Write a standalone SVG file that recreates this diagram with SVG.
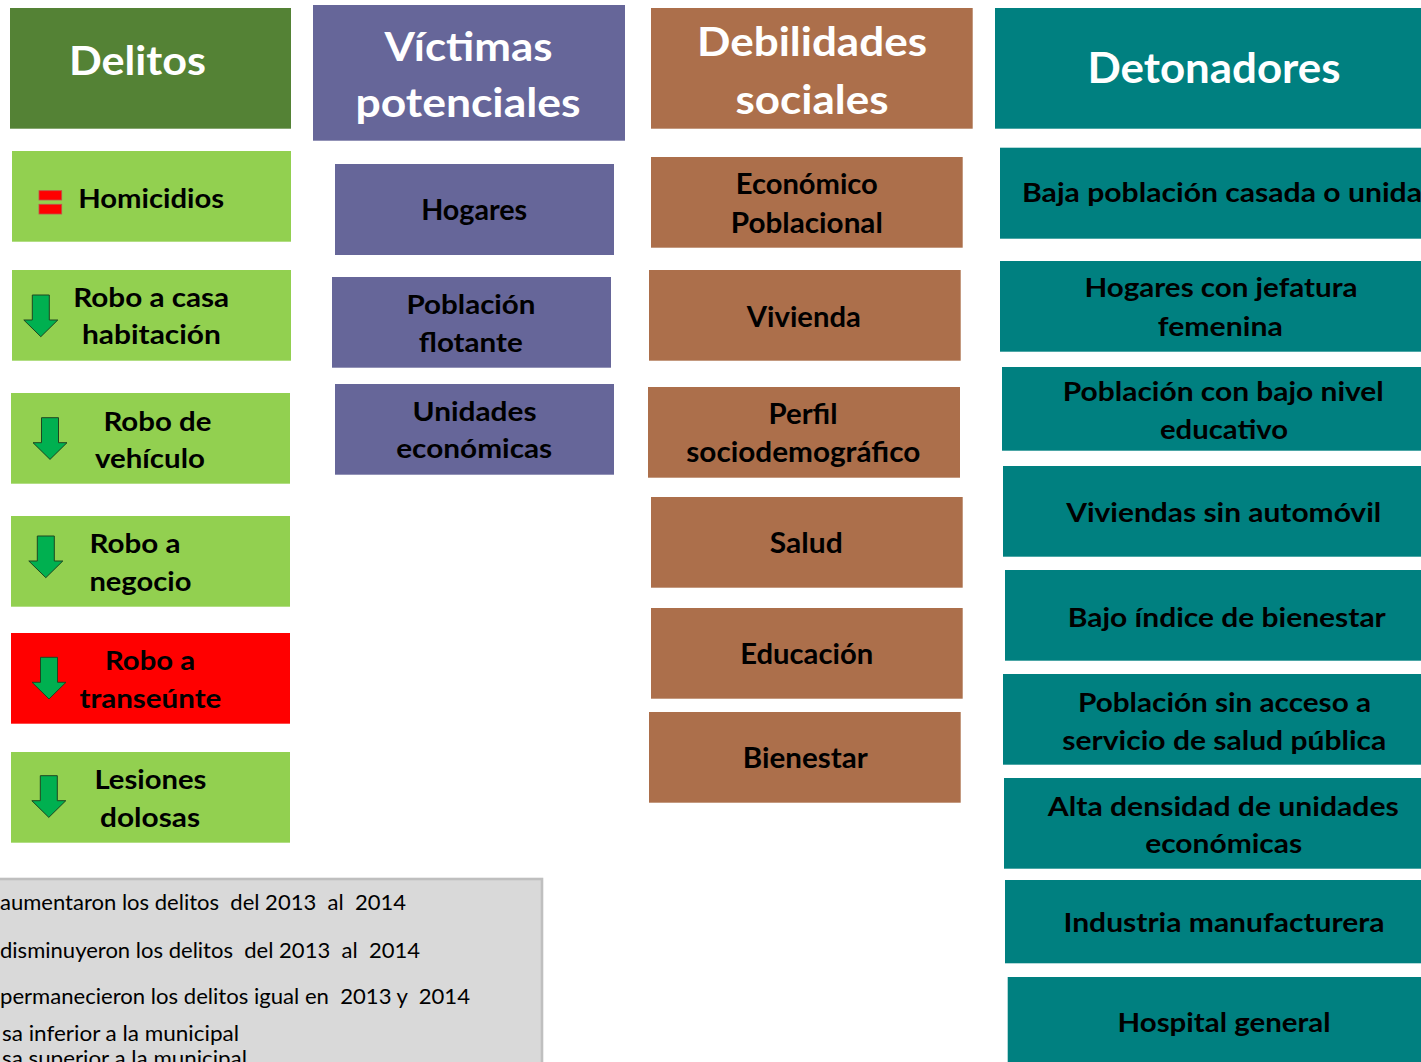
<svg xmlns="http://www.w3.org/2000/svg" width="1421" height="1062" viewBox="0 0 1421 1062">
<style>
text{font-family:Lato,"Open Sans","Liberation Sans",sans-serif;font-weight:700;fill:#000;}
.hd{fill:#fff;font-size:41px;text-anchor:middle;}
.c1{font-size:26px;text-anchor:middle;}
.c2{font-size:27.5px;text-anchor:middle;}
.c3{font-size:28.5px;text-anchor:middle;}
.c4{font-size:26.5px;text-anchor:middle;}
.lg{font-weight:400;font-size:21px;white-space:pre;}
.g1{fill:#548235;}.g2{fill:#92D050;}.red{fill:#FF0000;}
.pu{fill:#666699;}.br{fill:#AC6F4B;}.tl{fill:#008080;}
.arr{fill:#00B050;stroke:#1E4620;stroke-width:1;}
.eq{fill:#FF0000;stroke:#C0504D;stroke-width:0.8;}
</style>
<defs>
<path id="down" d="M -8.5 0 H 8.5 V 25 H 17 L 0 41.7 L -17 25 H -8.5 Z"/>
</defs>
<rect width="1421" height="1062" fill="#fff"/>

<!-- Column 1: Delitos -->
<g id="hdr-delitos"><rect class="g1" x="10" y="8" width="281" height="120.7"/>
<text class="hd" x="137.5" y="75" textLength="137" lengthAdjust="spacingAndGlyphs">Delitos</text></g>
<g id="homicidios"><rect class="g2" x="12" y="151" width="279" height="90.7"/>
<rect class="eq" x="39" y="190.7" width="22.7" height="9.3"/><rect class="eq" x="39" y="204.3" width="22.7" height="9.7"/>
<text class="c1" x="151.2" y="208.3" textLength="146" lengthAdjust="spacingAndGlyphs">Homicidios</text></g>
<g id="robo-casa"><rect class="g2" x="12" y="270" width="279" height="90.7"/>
<use href="#down" class="arr" x="40.8" y="295"/>
<text class="c1" x="151.2" y="306.7" textLength="156" lengthAdjust="spacingAndGlyphs">Robo a casa</text>
<text class="c1" x="151.4" y="344" textLength="139" lengthAdjust="spacingAndGlyphs">habitación</text></g>
<g id="robo-vehiculo"><rect class="g2" x="11" y="393" width="279" height="90.7"/>
<use href="#down" class="arr" x="50" y="417.7"/>
<text class="c1" x="157.4" y="430.7" textLength="108" lengthAdjust="spacingAndGlyphs">Robo de</text>
<text class="c1" x="149.9" y="468" textLength="110" lengthAdjust="spacingAndGlyphs">vehículo</text></g>
<g id="robo-negocio"><rect class="g2" x="11" y="516" width="279" height="90.7"/>
<use href="#down" class="arr" x="45.8" y="536"/>
<text class="c1" x="135" y="552.7" textLength="91" lengthAdjust="spacingAndGlyphs">Robo a</text>
<text class="c1" x="140.4" y="590.7" textLength="102" lengthAdjust="spacingAndGlyphs">negocio</text></g>
<g id="robo-transeunte"><rect class="red" x="11" y="633" width="279" height="90.7"/>
<use href="#down" class="arr" x="49" y="657.3"/>
<text class="c1" x="150" y="670" textLength="90" lengthAdjust="spacingAndGlyphs">Robo a</text>
<text class="c1" x="150.4" y="708.3" textLength="142" lengthAdjust="spacingAndGlyphs">transeúnte</text></g>
<g id="lesiones"><rect class="g2" x="11" y="752" width="279" height="90.7"/>
<use href="#down" class="arr" x="48.8" y="775.7"/>
<text class="c1" x="150.4" y="789" textLength="112" lengthAdjust="spacingAndGlyphs">Lesiones</text>
<text class="c1" x="150" y="826.7" textLength="100" lengthAdjust="spacingAndGlyphs">dolosas</text></g>

<!-- Column 2: Victimas potenciales -->
<g id="hdr-victimas"><rect class="pu" x="313" y="5" width="312" height="135.7"/>
<text class="hd" x="468.5" y="60.7" textLength="168" lengthAdjust="spacingAndGlyphs">Víctimas</text>
<text class="hd" x="468" y="117.3" textLength="225" lengthAdjust="spacingAndGlyphs">potenciales</text></g>
<g id="hogares"><rect class="pu" x="335" y="164" width="279" height="91"/>
<text class="c2" x="474.2" y="220" textLength="106" lengthAdjust="spacingAndGlyphs" style="font-size:28.5px">Hogares</text></g>
<g id="poblacion-flotante"><rect class="pu" x="332" y="277" width="279" height="90.7"/>
<text class="c2" x="471" y="314" textLength="129" lengthAdjust="spacingAndGlyphs">Población</text>
<text class="c2" x="470.8" y="352.3" textLength="104" lengthAdjust="spacingAndGlyphs">flotante</text></g>
<g id="unidades-economicas"><rect class="pu" x="335" y="384" width="279" height="90.7"/>
<text class="c2" x="474.5" y="420.7" textLength="124" lengthAdjust="spacingAndGlyphs">Unidades</text>
<text class="c2" x="474.2" y="458.3" textLength="156" lengthAdjust="spacingAndGlyphs">económicas</text></g>

<!-- Column 3: Debilidades sociales -->
<g id="hdr-debilidades"><rect class="br" x="651" y="8" width="321.7" height="120.7"/>
<text class="hd" x="812" y="56" textLength="230" lengthAdjust="spacingAndGlyphs">Debilidades</text>
<text class="hd" x="812" y="114" textLength="153" lengthAdjust="spacingAndGlyphs">sociales</text></g>
<g id="economico"><rect class="br" x="651" y="157" width="311.7" height="90.7"/>
<text class="c3" x="806.8" y="194" textLength="142" lengthAdjust="spacingAndGlyphs">Económico</text>
<text class="c3" x="806.8" y="233.3" textLength="152" lengthAdjust="spacingAndGlyphs">Poblacional</text></g>
<g id="vivienda"><rect class="br" x="649" y="270" width="311.7" height="90.7"/>
<text class="c3" x="803.8" y="326.7" textLength="114" lengthAdjust="spacingAndGlyphs">Vivienda</text></g>
<g id="perfil"><rect class="br" x="648" y="387" width="312" height="90.7"/>
<text class="c3" x="803" y="424" textLength="69" lengthAdjust="spacingAndGlyphs">Perfil</text>
<text class="c3" x="803.3" y="462.3" textLength="234" lengthAdjust="spacingAndGlyphs">sociodemográfico</text></g>
<g id="salud"><rect class="br" x="651" y="497" width="311.7" height="90.7"/>
<text class="c3" x="806.2" y="553.3" textLength="73" lengthAdjust="spacingAndGlyphs">Salud</text></g>
<g id="educacion"><rect class="br" x="651" y="608" width="311.7" height="90.7"/>
<text class="c3" x="806.7" y="664.3" textLength="133" lengthAdjust="spacingAndGlyphs">Educación</text></g>
<g id="bienestar"><rect class="br" x="649" y="712" width="311.7" height="90.7"/>
<text class="c3" x="805.3" y="768.3" textLength="125" lengthAdjust="spacingAndGlyphs">Bienestar</text></g>

<!-- Column 4: Detonadores -->
<g id="hdr-detonadores"><rect class="tl" x="995" y="8" width="426" height="120.7"/>
<text class="hd" x="1214" y="82.7" textLength="253" lengthAdjust="spacingAndGlyphs" style="font-size:42px">Detonadores</text></g>
<g id="baja-poblacion"><rect class="tl" x="1000" y="147.7" width="421" height="91"/>
<text class="c4" x="1022" y="202.3" textLength="400" lengthAdjust="spacingAndGlyphs" style="text-anchor:start">Baja población casada o unida</text></g>
<g id="jefatura-femenina"><rect class="tl" x="1000" y="261" width="421" height="90.7"/>
<text class="c4" x="1221" y="297.3" textLength="273" lengthAdjust="spacingAndGlyphs">Hogares con jefatura</text>
<text class="c4" x="1220.3" y="336" textLength="125" lengthAdjust="spacingAndGlyphs">femenina</text></g>
<g id="bajo-nivel-educativo"><rect class="tl" x="1002" y="367" width="419" height="83.7"/>
<text class="c4" x="1223.3" y="400.7" textLength="321" lengthAdjust="spacingAndGlyphs">Población con bajo nivel</text>
<text class="c4" x="1224" y="439" textLength="128" lengthAdjust="spacingAndGlyphs">educativo</text></g>
<g id="viviendas-sin-automovil"><rect class="tl" x="1003" y="466" width="418" height="90.7"/>
<text class="c4" x="1223.7" y="522.3" textLength="315" lengthAdjust="spacingAndGlyphs">Viviendas sin automóvil</text></g>
<g id="bajo-indice-bienestar"><rect class="tl" x="1005" y="570" width="416" height="90.7"/>
<text class="c4" x="1226.8" y="626.7" textLength="318" lengthAdjust="spacingAndGlyphs">Bajo índice de bienestar</text></g>
<g id="sin-acceso-salud"><rect class="tl" x="1003" y="674" width="418" height="90.7"/>
<text class="c4" x="1224.5" y="711.7" textLength="293" lengthAdjust="spacingAndGlyphs">Población sin acceso a</text>
<text class="c4" x="1224.3" y="750" textLength="324" lengthAdjust="spacingAndGlyphs">servicio de salud pública</text></g>
<g id="alta-densidad"><rect class="tl" x="1004" y="778" width="417" height="90.7"/>
<text class="c4" x="1223.3" y="815.7" textLength="351" lengthAdjust="spacingAndGlyphs">Alta densidad de unidades</text>
<text class="c4" x="1223.7" y="853.3" textLength="157" lengthAdjust="spacingAndGlyphs">económicas</text></g>
<g id="industria"><rect class="tl" x="1005" y="880" width="416" height="83.3"/>
<text class="c4" x="1224" y="931.7" textLength="321" lengthAdjust="spacingAndGlyphs">Industria manufacturera</text></g>
<g id="hospital"><rect class="tl" x="1007.7" y="977" width="413.3" height="90"/>
<text class="c4" x="1224" y="1031.7" textLength="213" lengthAdjust="spacingAndGlyphs">Hospital general</text></g>

<!-- Legend -->
<g id="legend">
<rect x="-5" y="879" width="547" height="200" fill="#D9D9D9" stroke="#BFBFBF" stroke-width="2.6"/>
<text class="lg" x="0" y="910" textLength="406" lengthAdjust="spacingAndGlyphs">aumentaron los delitos  del 2013  al  2014</text>
<text class="lg" x="0" y="958" textLength="420" lengthAdjust="spacingAndGlyphs">disminuyeron los delitos  del 2013  al  2014</text>
<text class="lg" x="0" y="1004" textLength="470" lengthAdjust="spacingAndGlyphs">permanecieron los delitos igual en  2013 y  2014</text>
<text class="lg" x="2" y="1041" textLength="237" lengthAdjust="spacingAndGlyphs">sa inferior a la municipal</text>
<text class="lg" x="2" y="1066" textLength="245" lengthAdjust="spacingAndGlyphs">sa superior a la municipal</text>
</g>
<g id="connectors"/>
</svg>
